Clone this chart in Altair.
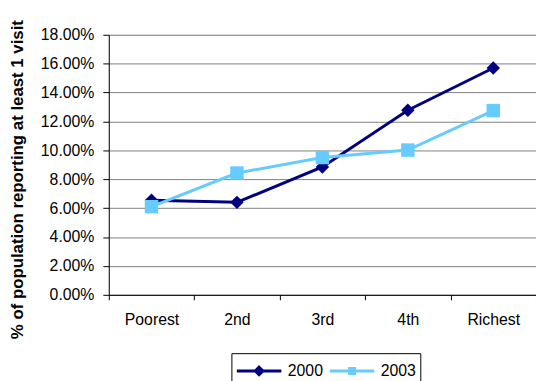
import altair as alt
import pandas as pd

categories = ["Poorest", "2nd", "3rd", "4th", "Richest"]
values_2000 = [0.0655, 0.064, 0.0885, 0.1278, 0.157]
values_2003 = [0.061, 0.0843, 0.095, 0.1002, 0.1275]
series = ["2000", "2003"]
colors = ["#000080", "#66CCFF"]
marker_shapes = ["diamond", "square"]

rows = []
for c, v in zip(categories, values_2000):
    rows.append({"cat": c, "val": v, "year": series[0]})
for c, v in zip(categories, values_2003):
    rows.append({"cat": c, "val": v, "year": series[1]})
df = pd.DataFrame(rows)

FONT = "Liberation Sans"

# legend symbols: a line with the marker in its middle (drawn by stroke)
legend_shapes = [
    "M-1,0L1,0M0,-0.17L0.17,0L0,0.17L-0.17,0ZM0,-0.08L0.08,0L0,0.08L-0.08,0Z",
    "M-1,0L1,0M-0.11,-0.11L0.11,-0.11L0.11,0.11L-0.11,0.11ZM-0.04,-0.04L0.04,-0.04L0.04,0.04L-0.04,0.04Z",
]

color_scale = alt.Scale(domain=series, range=colors)


def make_legend():
    return alt.Legend(title=None, orient="none", legendX=124, legendY=322,
                      direction="horizontal", strokeColor="#000",
                      padding=4, labelFont=FONT, labelFontSize=16,
                      labelColor="#000", symbolSize=2025,
                      symbolStrokeWidth=3, symbolOpacity=1,
                      clipHeight=28, columnPadding=5, labelOffset=5)


base = alt.Chart(df).encode(
    x=alt.X("cat:N", sort=categories,
            scale=alt.Scale(type="band", paddingInner=0, paddingOuter=0),
            axis=alt.Axis(title=None, tickBand="extent", grid=False,
                          labelFont=FONT, labelFontSize=16, labelColor="#000",
                          labelPadding=12, tickSize=5, tickColor="#000",
                          domainColor="#000", labelAngle=0)),
    y=alt.Y("val:Q", scale=alt.Scale(domain=[0, 0.18]),
            axis=alt.Axis(format=".2%", values=[i * 0.02 for i in range(10)],
                          title="% of population reporting at least 1 visit",
                          titleFont=FONT, titleFontSize=17, titleFontWeight="bold",
                          titleColor="#000", titleBaseline="middle",
                          titleX=-92, titleY=146, titleAngle=270,
                          labelFont=FONT, labelFontSize=16, labelColor="#000",
                          labelPadding=9, tickSize=6, tickColor="#000",
                          domainColor="#000", gridColor="#808080", gridWidth=1)),
)

legend_layer = base.mark_point(filled=False, opacity=0).encode(
    color=alt.Color("year:N", scale=color_scale, legend=make_legend()),
    shape=alt.Shape("year:N", scale=alt.Scale(domain=series, range=legend_shapes),
                    legend=make_legend()),
)

lines = base.mark_line(strokeWidth=3).encode(
    color=alt.Color("year:N", scale=color_scale, legend=make_legend()),
)

point_layers = [
    base.transform_filter(alt.datum.year == s)
    .mark_point(filled=True, size=185, opacity=1, shape=shp)
    .encode(color=alt.Color("year:N", scale=color_scale, legend=make_legend()))
    for s, shp in zip(series, marker_shapes)
]

chart = alt.layer(legend_layer, lines, *point_layers).properties(
    width=432, height=263,
    autosize=alt.AutoSizeParams(type="none"),
    padding={"left": 110, "top": 33, "right": 0, "bottom": 85},
).configure_view(stroke=None).configure(background="white")

chart.save("out.html", embed_options={"renderer": "svg", "actions": False})
